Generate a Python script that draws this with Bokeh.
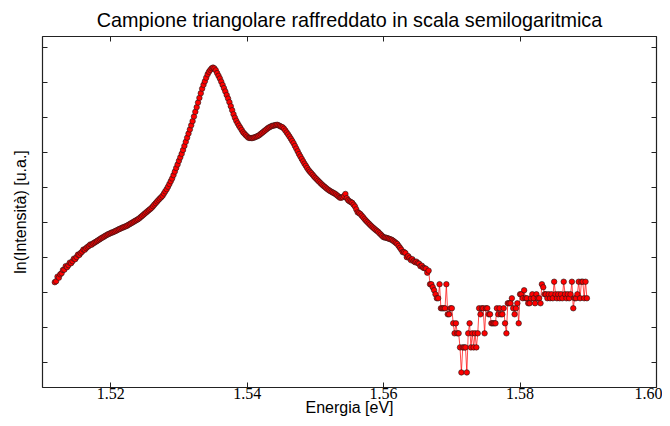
from bokeh.plotting import figure
from bokeh.models import Range1d, FixedTicker, LinearAxis, CustomJSTickFormatter
from bokeh.embed import file_html
from bokeh.resources import INLINE

# Energy [eV] of each sample
energia = [
    1.5118, 1.5120, 1.5122, 1.5124, 1.5126, 1.5128, 1.5130, 1.5132, 1.5134, 1.5136,
    1.5138, 1.5140, 1.5142, 1.5144, 1.5146, 1.5148, 1.5150, 1.5152, 1.5154, 1.5156,
    1.5158, 1.5160, 1.5162, 1.5164, 1.5166, 1.5168, 1.5170, 1.5172, 1.5174, 1.5176,
    1.5178, 1.5180, 1.5182, 1.5184, 1.5186, 1.5188, 1.5190, 1.5192, 1.5194, 1.5196,
    1.5198, 1.5200, 1.5202, 1.5204, 1.5206, 1.5208, 1.5210, 1.5212, 1.5214, 1.5216,
    1.5218, 1.5220, 1.5222, 1.5224, 1.5226, 1.5228, 1.5230, 1.5232, 1.5234, 1.5236,
    1.5238, 1.5240, 1.5242, 1.5244, 1.5246, 1.5248, 1.5250, 1.5252, 1.5254, 1.5256,
    1.5258, 1.5260, 1.5262, 1.5264, 1.5266, 1.5268, 1.5270, 1.5272, 1.5274, 1.5276,
    1.5278, 1.5280, 1.5282, 1.5284, 1.5286, 1.5288, 1.5290, 1.5292, 1.5294, 1.5296,
    1.5298, 1.5300, 1.5302, 1.5304, 1.5306, 1.5308, 1.5310, 1.5312, 1.5314, 1.5316,
    1.5318, 1.5320, 1.5322, 1.5324, 1.5326, 1.5328, 1.5330, 1.5332, 1.5334, 1.5336,
    1.5338, 1.5340, 1.5342, 1.5344, 1.5346, 1.5348, 1.5350, 1.5352, 1.5354, 1.5356,
    1.5358, 1.5360, 1.5362, 1.5364, 1.5366, 1.5368, 1.5370, 1.5372, 1.5374, 1.5376,
    1.5378, 1.5380, 1.5382, 1.5384, 1.5386, 1.5388, 1.5390, 1.5392, 1.5394, 1.5396,
    1.5398, 1.5400, 1.5402, 1.5404, 1.5406, 1.5408, 1.5410, 1.5412, 1.5414, 1.5416,
    1.5418, 1.5420, 1.5422, 1.5424, 1.5426, 1.5428, 1.5430, 1.5432, 1.5434, 1.5436,
    1.5438, 1.5440, 1.5442, 1.5444, 1.5446, 1.5448, 1.5450, 1.5452, 1.5454, 1.5456,
    1.5458, 1.5460, 1.5462, 1.5464, 1.5466, 1.5468, 1.5470, 1.5472, 1.5474, 1.5476,
    1.5478, 1.5480, 1.5482, 1.5484, 1.5486, 1.5488, 1.5490, 1.5492, 1.5494, 1.5496,
    1.5498, 1.5500, 1.5502, 1.5504, 1.5506, 1.5508, 1.5510, 1.5512, 1.5514, 1.5516,
    1.5518, 1.5520, 1.5522, 1.5524, 1.5526, 1.5528, 1.5530, 1.5532, 1.5534, 1.5536,
    1.5538, 1.5540, 1.5542, 1.5544, 1.5546, 1.5548, 1.5550, 1.5552, 1.5554, 1.5556,
    1.5558, 1.5560, 1.5562, 1.5564, 1.5566, 1.5568, 1.5570, 1.5572, 1.5574, 1.5576,
    1.5578, 1.5580, 1.5582, 1.5584, 1.5586, 1.5588, 1.5590, 1.5592, 1.5594, 1.5596,
    1.5598, 1.5600, 1.5602, 1.5604, 1.5606, 1.5608, 1.5610, 1.5612, 1.5614, 1.5616,
    1.5618, 1.5620, 1.5622, 1.5624, 1.5626, 1.5628, 1.5630, 1.5632, 1.5634, 1.5636,
    1.5638, 1.5640, 1.5642, 1.5644, 1.5646, 1.5648, 1.5650, 1.5652, 1.5654, 1.5656,
    1.5658, 1.5660, 1.5662, 1.5664, 1.5666, 1.5668, 1.5670, 1.5672, 1.5674, 1.5676,
    1.5678, 1.5680, 1.5682, 1.5684, 1.5686, 1.5688, 1.5690, 1.5692, 1.5694, 1.5696,
    1.5698, 1.5700, 1.5702, 1.5704, 1.5706, 1.5708, 1.5710, 1.5712, 1.5714, 1.5716,
    1.5718, 1.5720, 1.5722, 1.5724, 1.5726, 1.5728, 1.5730, 1.5732, 1.5734, 1.5736,
    1.5738, 1.5740, 1.5742, 1.5744, 1.5746, 1.5748, 1.5750, 1.5752, 1.5754, 1.5756,
    1.5758, 1.5760, 1.5762, 1.5764, 1.5766, 1.5768, 1.5770, 1.5772, 1.5774, 1.5776,
    1.5778, 1.5780, 1.5782, 1.5784, 1.5786, 1.5788, 1.5790, 1.5792, 1.5794, 1.5796,
    1.5798, 1.5800, 1.5802, 1.5804, 1.5806, 1.5808, 1.5810, 1.5812, 1.5814, 1.5816,
    1.5818, 1.5820, 1.5822, 1.5824, 1.5826, 1.5828, 1.5830, 1.5832, 1.5834, 1.5836,
    1.5838, 1.5840, 1.5842, 1.5844, 1.5846, 1.5848, 1.5850, 1.5852, 1.5854, 1.5856,
    1.5858, 1.5860, 1.5862, 1.5864, 1.5866, 1.5868, 1.5870, 1.5872, 1.5874, 1.5876,
    1.5878, 1.5880, 1.5882, 1.5884, 1.5886, 1.5888, 1.5890, 1.5892, 1.5894, 1.5896,
    1.5898,
]

# ln(Intensity) [arb. units]
ln_intensita = [
    3.300, 3.329, 3.457, 3.429, 3.523, 3.557, 3.649, 3.657, 3.757, 3.729,
    3.786, 3.857, 3.843, 3.900, 3.971, 3.957, 4.017, 4.086, 4.077, 4.134,
    4.171, 4.229, 4.226, 4.271, 4.306, 4.334, 4.374, 4.369, 4.403, 4.426,
    4.449, 4.474, 4.500, 4.526, 4.551, 4.574, 4.597, 4.620, 4.643, 4.663,
    4.683, 4.700, 4.717, 4.731, 4.749, 4.769, 4.789, 4.809, 4.826, 4.846,
    4.860, 4.877, 4.891, 4.911, 4.934, 4.957, 4.980, 5.003, 5.026, 5.049,
    5.071, 5.094, 5.123, 5.157, 5.189, 5.223, 5.257, 5.289, 5.323, 5.354,
    5.386, 5.420, 5.466, 5.511, 5.554, 5.600, 5.643, 5.683, 5.723, 5.763,
    5.826, 5.889, 5.951, 6.020, 6.097, 6.177, 6.254, 6.351, 6.451, 6.554,
    6.654, 6.757, 6.857, 6.957, 7.066, 7.183, 7.300, 7.417, 7.534, 7.651,
    7.769, 7.889, 8.020, 8.154, 8.286, 8.417, 8.551, 8.683, 8.814, 8.923,
    9.023, 9.126, 9.223, 9.294, 9.349, 9.394, 9.414, 9.391, 9.337, 9.257,
    9.180, 9.103, 9.014, 8.920, 8.829, 8.734, 8.631, 8.531, 8.429, 8.314,
    8.200, 8.086, 7.986, 7.900, 7.826, 7.760, 7.697, 7.634, 7.571, 7.529,
    7.489, 7.449, 7.414, 7.409, 7.406, 7.409, 7.420, 7.437, 7.451, 7.469,
    7.494, 7.526, 7.557, 7.589, 7.620, 7.651, 7.683, 7.709, 7.729, 7.749,
    7.760, 7.769, 7.777, 7.786, 7.769, 7.749, 7.729, 7.711, 7.674, 7.620,
    7.566, 7.511, 7.451, 7.389, 7.326, 7.260, 7.183, 7.106, 7.029, 6.951,
    6.883, 6.811, 6.743, 6.677, 6.617, 6.554, 6.494, 6.449, 6.406, 6.360,
    6.314, 6.271, 6.231, 6.191, 6.154, 6.114, 6.077, 6.043, 6.011, 5.977,
    5.946, 5.917, 5.894, 5.871, 5.851, 5.829, 5.803, 5.771, 5.740, 5.709,
    5.709, 5.723, 5.757, 5.814, 5.694, 5.637, 5.606, 5.583, 5.560, 5.509,
    5.457, 5.374, 5.291, 5.269, 5.240, 5.194, 5.149, 5.100, 5.057, 5.017,
    4.977, 4.940, 4.900, 4.863, 4.831, 4.797, 4.766, 4.734, 4.694, 4.657,
    4.617, 4.583, 4.574, 4.563, 4.554, 4.537, 4.523, 4.506, 4.480, 4.449,
    4.420, 4.389, 4.334, 4.280, 4.226, 4.157, 4.157, 4.129, 4.014, 4.043,
    3.986, 3.929, 3.957, 3.900, 3.871, 3.886, 3.843, 3.829, 3.757, 3.771,
    3.714, 3.700, 3.686, 3.571, 3.629, 3.243, 3.243, 3.157, 3.071, 2.957,
    2.843, 2.843, 3.243, 2.557, 2.557, 2.557, 2.557, 3.243, 2.386, 2.386,
    2.557, 2.557, 2.129, 1.843, 2.129, 1.843, 1.843, 1.443, 0.729, 1.443,
    1.443, 1.443, 0.729, 1.843, 2.129, 1.443, 1.843, 1.443, 1.843, 1.443,
    1.843, 2.557, 2.386, 2.557, 2.557, 1.843, 2.557, 2.557, 2.386, 2.386,
    2.129, 2.129, 2.129, 2.129, 2.557, 2.386, 2.557, 2.386, 2.386, 2.557,
    2.129, 1.843, 2.700, 2.700, 2.700, 2.843, 2.557, 2.386, 2.557, 2.700,
    2.129, 2.957, 2.957, 2.843, 3.071, 2.843, 2.843, 2.700, 2.700, 2.843,
    2.957, 2.843, 2.700, 2.957, 2.843, 2.843, 2.700, 3.243, 3.157, 2.957,
    2.957, 2.843, 2.957, 2.843, 2.957, 2.843, 3.314, 2.957, 2.843, 2.957,
    2.843, 2.957, 2.843, 3.314, 2.957, 2.843, 2.957, 2.843, 2.957, 3.314,
    2.557, 2.843, 2.843, 2.957, 3.314, 2.843, 3.314, 3.314, 2.843, 3.314,
    2.843,
]

x_ticks = [1.52, 1.54, 1.56, 1.58, 1.60]
x_tick_labels = ["1.52", "1.54", "1.56", "1.58", "1.60"]
y_ticks = [1, 2, 3, 4, 5, 6, 7, 8, 9, 10]

FRAME = "#222222"

p = figure(width=662, height=418, output_backend="svg", toolbar_location=None,
           x_range=Range1d(1.51, 1.60), y_range=Range1d(0.3, 10.3),
           min_border_left=42, min_border_right=6, min_border_top=36,
           min_border_bottom=31)

p.title.text = "Campione triangolare raffreddato in scala semilogaritmica"
p.title.align = "center"
p.title.text_font = "Liberation Sans"
p.title.text_font_size = "19.8px"
p.title.text_font_style = "normal"
p.title.text_color = "black"
p.title.standoff = 12

p.xgrid.visible = False
p.ygrid.visible = False
p.background_fill_color = "white"
p.border_fill_color = "white"
p.outline_line_color = FRAME
p.outline_line_width = 1.2

blank = CustomJSTickFormatter(code="return ''")

# bottom axis
xa = p.xaxis[0]
xa.ticker = FixedTicker(ticks=x_ticks)
xa.major_label_overrides = {t: l for t, l in zip(x_ticks, x_tick_labels)}
xa.axis_label = "Energia [eV]"
xa.axis_label_text_font = "Liberation Sans"
xa.axis_label_text_font_size = "16px"
xa.axis_label_text_font_style = "normal"
xa.axis_label_text_color = "black"
xa.major_label_text_font = "Liberation Serif"
xa.major_label_text_font_size = "16px"
xa.major_label_text_color = "black"
xa.major_label_standoff = 0
xa.axis_label_standoff = -3
xa.major_tick_in = 5
xa.major_tick_out = 0
xa.minor_tick_line_color = None
xa.axis_line_color = None
xa.major_tick_line_color = FRAME

# left axis
ya = p.yaxis[0]
ya.ticker = FixedTicker(ticks=y_ticks)
ya.formatter = blank
ya.major_label_text_font_size = "1px"
ya.major_label_standoff = 0
ya.axis_label = "ln(Intensità) [u.a.]"
ya.axis_label_text_font = "Liberation Sans"
ya.axis_label_text_font_size = "16px"
ya.axis_label_text_font_style = "normal"
ya.axis_label_text_color = "black"
ya.axis_label_standoff = 14
ya.major_tick_in = 5
ya.major_tick_out = 0
ya.minor_tick_line_color = None
ya.axis_line_color = None
ya.major_tick_line_color = FRAME

# mirrored ticks (top and right)
top = LinearAxis(ticker=FixedTicker(ticks=x_ticks), formatter=blank,
                 major_label_text_font_size="1px", major_label_standoff=0,
                 major_tick_in=5, major_tick_out=0, minor_tick_line_color=None,
                 axis_line_color=None, major_tick_line_color=FRAME)
p.add_layout(top, "above")
right = LinearAxis(ticker=FixedTicker(ticks=y_ticks), formatter=blank,
                   major_label_text_font_size="1px", major_label_standoff=0,
                   major_tick_in=5, major_tick_out=0, minor_tick_line_color=None,
                   axis_line_color=None, major_tick_line_color=FRAME)
p.add_layout(right, "right")

p.line(energia, ln_intensita, line_color="red", line_width=0.8, line_alpha=0.9)
p.scatter(energia, ln_intensita, size=5.5, fill_color="red", line_color="#1a1a1a",
          line_width=0.6)

open("out.html", "w").write(file_html(p, INLINE))
